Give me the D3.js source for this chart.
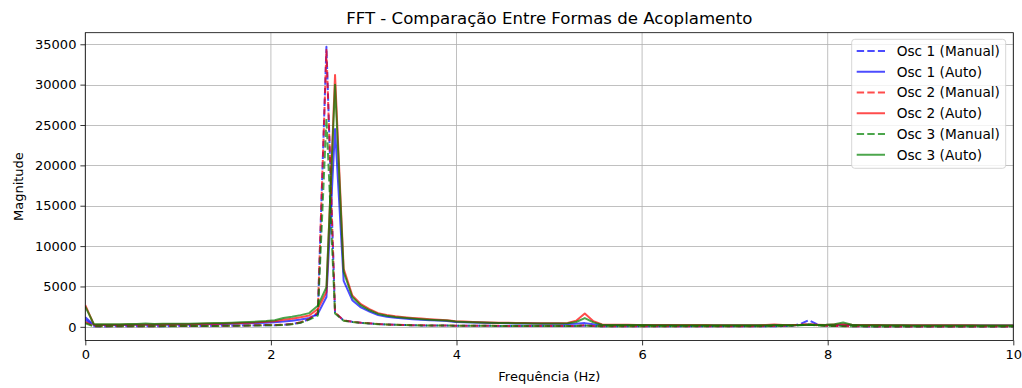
<!DOCTYPE html>
<html>
<head>
<meta charset="utf-8">
<script src="https://cdn.jsdelivr.net/npm/d3@7"></script>
<style>
  html, body { margin: 0; padding: 0; background: #fff; }
  svg { display: block; font-family: "DejaVu Sans", sans-serif; }
</style>
</head>
<body>
<svg id="chart" width="1022" height="388"></svg>
<script>
// Frequency bin spacing (Hz) of the FFT
const freqStep = 0.0928;

// Magnitude spectra, one value per frequency bin (bin 0 = 0 Hz)
const osc1Manual = [900,
  60,50,60,70,60,70,80,70,80,90,
  90,100,110,110,120,130,140,150,170,190,
  220,200,260,340,540,950,1600,34700,1750,800,
  620,500,420,340,290,250,220,200,180,170,
  160,150,140,135,130,125,120,115,110,105,
  100,100,95,95,90,90,95,160,90,80,
  80,75,75,70,70,70,65,65,65,60,
  60,60,60,60,60,60,65,70,75,80,
  90,120,330,830,300,120,90,110,80,60,
  55,55,50,50,50,50,50,45,45,45,
  45,45,40,40,40,40,40,40];
const osc1Auto = [1200,
  220,230,230,240,240,250,260,260,270,280,
  290,300,310,320,340,360,380,400,430,470,
  520,580,650,750,900,1100,1600,3700,24500,5700,
  3300,2400,1900,1450,1250,1120,1030,950,880,820,
  770,720,600,560,530,500,480,460,440,420,
  410,400,390,380,370,360,380,460,330,230,
  210,200,200,195,190,190,185,185,180,180,
  180,175,175,175,170,170,170,175,180,190,
  200,210,230,260,230,220,240,260,230,200,
  190,185,180,180,175,175,170,170,170,165,
  165,165,160,160,160,160,155,155];
const osc2Manual = [600,
  70,60,60,70,70,80,80,80,90,90,
  100,100,110,120,120,130,140,160,170,200,
  230,210,270,350,560,980,1800,34300,1800,780,
  630,510,430,350,300,260,230,210,190,175,
  165,155,145,140,135,130,125,120,115,110,
  105,100,100,95,95,95,110,200,100,85,
  80,80,75,75,70,70,70,70,65,65,
  65,60,60,60,60,65,70,80,90,100,
  120,150,220,300,200,120,100,90,80,65,
  60,55,55,50,50,50,50,50,45,45,
  45,45,45,40,40,40,40,40];
const osc2Auto = [2700,
  260,260,270,270,280,290,290,300,310,310,
  320,330,350,370,390,410,440,470,510,560,
  620,700,870,1000,1200,1400,2200,4300,31200,7200,
  3900,2800,2200,1700,1480,1320,1200,1100,1020,950,
  880,820,700,650,610,580,550,520,500,480,
  460,450,440,430,430,480,750,1650,700,300,
  260,250,245,240,235,230,230,225,220,220,
  215,215,210,210,210,205,205,210,230,280,
  240,230,250,300,260,240,280,320,260,230,
  220,215,210,205,200,200,195,195,190,190,
  185,185,185,180,180,180,175,175];
const osc3Manual = [450,
  60,60,60,60,70,70,70,80,80,80,
  90,90,100,100,110,120,130,140,150,170,
  190,180,240,320,500,900,1400,25800,1650,760,
  600,490,410,330,290,250,220,200,180,170,
  160,150,140,135,130,125,120,115,110,105,
  100,100,95,95,90,90,100,180,95,80,
  80,75,75,70,70,70,65,65,65,60,
  60,60,60,60,60,60,65,70,80,90,
  110,140,200,280,180,110,95,85,75,60,
  55,55,50,50,50,50,45,45,45,45,
  45,40,40,40,40,40,40,40];
const osc3Auto = [2500,
  320,320,330,330,340,350,420,360,370,370,
  380,390,410,430,460,490,520,560,600,650,
  720,820,1100,1250,1450,1700,2600,4900,30000,6800,
  3700,2650,2050,1600,1380,1230,1120,1030,950,880,
  820,770,650,610,570,540,510,490,470,450,
  430,420,410,400,400,430,600,1080,550,260,
  240,230,225,220,215,210,210,205,200,200,
  200,195,195,190,190,190,185,190,200,230,
  220,210,220,260,240,250,330,540,250,210,
  200,195,190,185,185,180,180,175,175,175,
  170,170,170,165,165,165,160,160];

const seriesNames = ["Osc 1 (Manual)", "Osc 1 (Auto)", "Osc 2 (Manual)", "Osc 2 (Auto)", "Osc 3 (Manual)", "Osc 3 (Auto)"];
const seriesValues = [osc1Manual, osc1Auto, osc2Manual, osc2Auto, osc3Manual, osc3Auto];
const seriesColors = ["#0000ff", "#0000ff", "#ff0000", "#ff0000", "#008000", "#008000"];
const seriesDashed = [true, false, true, false, true, false];

const xTicks = [0, 2, 4, 6, 8, 10];
const yTicks = [0, 5000, 10000, 15000, 20000, 25000, 30000, 35000];

const titleText = "FFT - Comparação Entre Formas de Acoplamento";
const xLabel = "Frequência (Hz)";
const yLabel = "Magnitude";

// ---- layout ----
const svg = d3.select("#chart");
const plot = { left: 85.3, right: 1013.3, top: 32.7, bottom: 340.5 };

const x = d3.scaleLinear().domain([0, 10]).range([plot.left, plot.right]);

const allVals = seriesValues.flat();
const yMin = d3.min(allVals), yMax = d3.max(allVals);
const pad = (yMax - yMin) * 0.05;
const y = d3.scaleLinear().domain([yMin - pad, yMax + pad]).range([plot.bottom, plot.top]);

svg.append("defs").append("clipPath").attr("id", "plotClip")
  .append("rect")
  .attr("x", plot.left).attr("y", plot.top)
  .attr("width", plot.right - plot.left).attr("height", plot.bottom - plot.top);

// grid
const grid = svg.append("g").attr("stroke", "#b0b0b0").attr("stroke-width", 0.8);
grid.selectAll("line.gx").data(xTicks).join("line")
  .attr("x1", d => x(d)).attr("x2", d => x(d))
  .attr("y1", plot.top).attr("y2", plot.bottom);
grid.selectAll("line.gy").data(yTicks).join("line")
  .attr("x1", plot.left).attr("x2", plot.right)
  .attr("y1", d => Math.round(y(d)) + 0.5).attr("y2", d => Math.round(y(d)) + 0.5);

// spectra
const lineGen = d3.line()
  .x((d, i) => x(i * freqStep))
  .y(d => y(d));

const lines = svg.append("g").attr("clip-path", "url(#plotClip)");
seriesValues.forEach((vals, k) => {
  lines.append("path")
    .datum(vals)
    .attr("d", lineGen)
    .attr("fill", "none")
    .attr("stroke", seriesColors[k])
    .attr("stroke-opacity", 0.7)
    .attr("stroke-width", 2)
    .attr("stroke-linejoin", "round")
    .attr("stroke-dasharray", seriesDashed[k] ? "7.4,3.2" : null);
});

// axes
const xAxis = d3.axisBottom(x).tickValues(xTicks).tickSize(4.9).tickPadding(4).tickFormat(d3.format("d"));
const yAxis = d3.axisLeft(y).tickValues(yTicks).tickSize(4.9).tickPadding(4).tickFormat(d3.format("d"));

const gx = svg.append("g").attr("transform", `translate(0,${plot.bottom})`).call(xAxis);
const gy = svg.append("g").attr("transform", `translate(${plot.left},0)`).call(yAxis);
[gx, gy].forEach(g => {
  g.select(".domain").remove();
  g.selectAll(".tick line").attr("stroke", "#000").attr("stroke-width", 0.8);
  g.selectAll(".tick text").attr("fill", "#000").attr("font-size", "13px")
    .attr("font-family", "DejaVu Sans, sans-serif");
});

// frame
svg.append("rect")
  .attr("x", plot.left).attr("y", plot.top)
  .attr("width", plot.right - plot.left).attr("height", plot.bottom - plot.top)
  .attr("fill", "none").attr("stroke", "#000").attr("stroke-width", 0.8);

// titles
svg.append("text")
  .attr("x", (plot.left + plot.right) / 2).attr("y", 24)
  .attr("text-anchor", "middle").attr("font-size", "16.6px").attr("fill", "#000")
  .text(titleText);
svg.append("text")
  .attr("x", (plot.left + plot.right) / 2).attr("y", 380.5)
  .attr("text-anchor", "middle").attr("font-size", "13px").attr("fill", "#000")
  .text(xLabel);
svg.append("text")
  .attr("transform", `translate(22.5,${(plot.top + plot.bottom) / 2}) rotate(-90)`)
  .attr("text-anchor", "middle").attr("font-size", "13px").attr("fill", "#000")
  .text(yLabel);

// legend
const legend = svg.append("g").attr("transform", "translate(851.7,39.3)");
legend.append("rect")
  .attr("width", 154).attr("height", 129)
  .attr("rx", 3).attr("ry", 3)
  .attr("fill", "#fff").attr("fill-opacity", 0.8)
  .attr("stroke", "#cccccc").attr("stroke-width", 0.8);
seriesNames.forEach((name, k) => {
  const cy = 11.7 + k * 20.75;
  legend.append("line")
    .attr("x1", 5).attr("x2", 33.3)
    .attr("y1", cy).attr("y2", cy)
    .attr("stroke", seriesColors[k]).attr("stroke-opacity", 0.7)
    .attr("stroke-width", 2)
    .attr("stroke-dasharray", seriesDashed[k] ? "7.4,3.2" : null);
  legend.append("text")
    .attr("x", 45).attr("y", cy + 4.8)
    .attr("font-size", "13.7px").attr("fill", "#000")
    .text(name);
});
</script>
</body>
</html>
